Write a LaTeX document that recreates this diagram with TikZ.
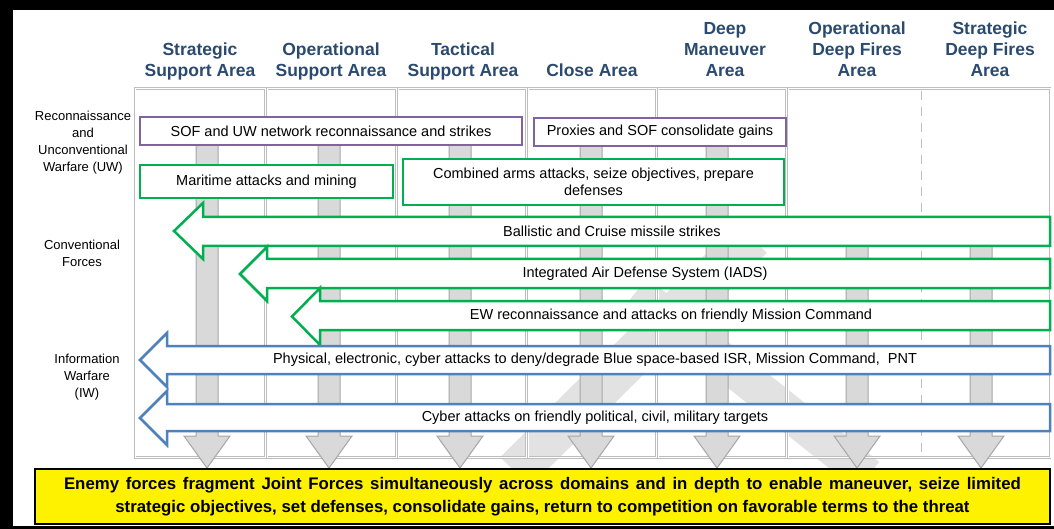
\documentclass[tikz,border=0pt]{standalone}
\usepackage{fontspec}
\setmainfont{Liberation Sans}
\definecolor{hdr}{HTML}{2A4A70}
\definecolor{grn}{HTML}{00B050}
\definecolor{pur}{HTML}{8064A2}
\definecolor{blu}{HTML}{4F81BD}
\definecolor{pilfill}{HTML}{D9D9D9}
\definecolor{pildraw}{HTML}{A6A6A6}
\definecolor{wm}{HTML}{E2E2E2}
\definecolor{gridc}{HTML}{BDBDBD}
\newcommand\pillarshape[3]{%
  \draw[pillar] (#2-11,#3) -- (#2+11,#3) -- (#2+11,436) -- (#2+23,436) -- (#2,468) -- (#2-23,436) -- (#2-11,436) -- cycle;
  \coordinate (#1) at (#2,468);}
\newcommand\leftblock[9]{%
  \draw[#8, line width=2.5pt, fill=white, line join=miter] (#2,{(#4+#7)/2}) -- (#3,#4) -- (#3,#5) -- (1050,#5) -- (1050,#6) -- (#3,#6) -- (#3,#7) -- cycle;
  \node[boxtxt] (#1) at ({(#2+1050)/2},{(#5+#6)/2}) {#9};}
\begin{document}
\begin{tikzpicture}[x=1pt,y=-1pt,
  hdr/.style={font=\fontsize{17.5}{21}\selectfont\bfseries, text=hdr, align=center, anchor=south},
  rowlab/.style={font=\fontsize{13}{17}\selectfont, align=center},
  boxtxt/.style={font=\fontsize{14.5}{17}\selectfont, align=center},
  colbox/.style={draw=gridc, double=white, double distance=1pt, line width=0.7pt, inner sep=0pt},
  pillar/.style={fill=pilfill, draw=pildraw, line width=1pt},
  abox/.style={line width=2.5pt, fill=white, inner sep=0pt, font=\fontsize{14.5}{17}\selectfont, align=center}]
\useasboundingbox (0,0) rectangle (1054,529);
\fill[white] (0,0) rectangle (1054,529);
% frame
\fill[black] (0,0) rectangle (1054,10);
\fill[black] (0,0) rectangle (13,529);
\fill[black] (0,526) rectangle (1054,529);
% watermark
\draw[wm, line width=42pt] (515,472) -- (752,238);
\draw[wm, line width=36pt] (636,292) -- (868,476);
% columns
\node[colbox, minimum width=130, minimum height=369] (c1) at (200,273) {};
\node[colbox, minimum width=129, minimum height=369] (c2) at (331.5,273) {};
\node[colbox, minimum width=128, minimum height=369] (c3) at (462,273) {};
\node[colbox, minimum width=128, minimum height=369] (c4) at (592,273) {};
\node[colbox, minimum width=128, minimum height=369] (c5) at (722,273) {};
\node[colbox, minimum width=262, minimum height=369] (c6) at (919,273) {};
\coordinate (dtop) at (922,91);
\coordinate (dbot) at (922,455);
\draw[gridc, double=white, double distance=1pt, line width=0.7pt, dash pattern=on 9pt off 7pt] (dtop) -- (dbot);
% headers
\node[hdr] (h1) at (200,84) {Strategic\\Support Area};
\node[hdr] (h2) at (331,84) {Operational\\Support Area};
\node[hdr] (h3) at (463,84) {Tactical\\Support Area};
\node[hdr] (h4) at (592,80) {Close Area};
\node[hdr] (h5) at (725,80) {Deep\\Maneuver\\Area};
\node[hdr] (h6) at (857,80) {Operational\\Deep Fires\\Area};
\node[hdr] (h7) at (990,80) {Strategic\\Deep Fires\\Area};
% row labels
\node[rowlab] (r1) at (83,143) {Reconnaissance\\and\\Unconventional\\Warfare (UW)};
\node[rowlab] (r2) at (82,253) {Conventional\\Forces};
\node[rowlab] (r3) at (87,377) {Information\\Warfare\\(IW)};
% pillars
\pillarshape{p1}{207}{125}
\pillarshape{p2}{329}{125}
\pillarshape{p3}{460}{125}
\pillarshape{p4}{591}{125}
\pillarshape{p5}{717}{125}
\pillarshape{p6}{857}{232}
\pillarshape{p7}{981}{232}
% boxes
\node[abox, draw=pur, minimum width=382, minimum height=28] (sof) at (331,131) {SOF and UW network reconnaissance and strikes};
\node[abox, draw=pur, minimum width=252, minimum height=28] (prox) at (660,132) {Proxies and SOF consolidate gains};
\node[abox, draw=grn, minimum width=253, minimum height=33] (mar) at (266.5,181.5) {Maritime attacks and mining};
\node[abox, draw=grn, minimum width=381, minimum height=46] (comb) at (593.5,182) {Combined arms attacks, seize objectives, prepare\\defenses};
% block arrows
\leftblock{bal}{174}{203}{203}{217}{246}{259}{grn}{Ballistic and Cruise missile strikes}
\leftblock{iads}{240}{267}{247}{259}{288}{301}{grn}{Integrated Air Defense System (IADS)}
\leftblock{ew}{292}{320}{288}{301}{330}{345}{grn}{EW reconnaissance and attacks on friendly Mission Command}
\leftblock{phys}{140}{167}{333}{346}{374}{387}{blu}{Physical, electronic, cyber attacks to deny/degrade Blue space-based ISR, Mission Command,\ \ PNT}
\leftblock{cyb}{140}{167}{391}{404}{431}{445}{blu}{Cyber attacks on friendly political, civil, military targets}
% bottom box
\node[draw=black, line width=1.5pt, fill=yellow, minimum width=1015, minimum height=55, inner sep=0pt,
  font=\fontsize{16.8}{23}\selectfont\bfseries, align=center] (res) at (542.5,496.5)
  {{\spaceskip=0.4em\relax Enemy forces fragment Joint Forces simultaneously across domains and in depth to enable maneuver, seize limited}\\strategic objectives, set defenses, consolidate gains, return to competition on favorable terms to the threat};
\end{tikzpicture}
\end{document}
